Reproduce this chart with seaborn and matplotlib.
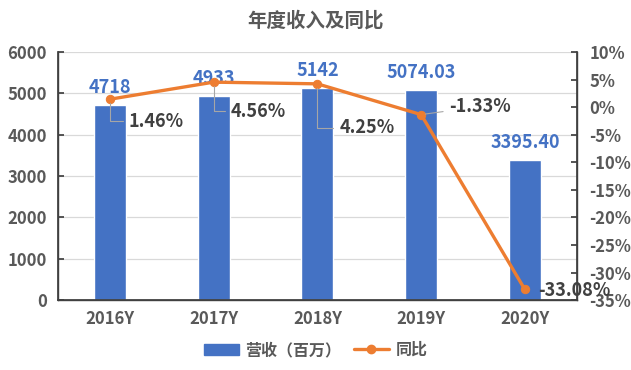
import matplotlib
matplotlib.use("Agg")
import matplotlib.pyplot as plt
import seaborn as sns
import pandas as pd
from matplotlib.lines import Line2D
from matplotlib.patches import Patch

# chart data
years = ["2016Y", "2017Y", "2018Y", "2019Y", "2020Y"]
revenue = [4718, 4933, 5142, 5074.03, 3395.40]
revenue_labels = ["4718", "4933", "5142", "5074.03", "3395.40"]
yoy = [1.46, 4.56, 4.25, -1.33, -33.08]
yoy_labels = ["1.46%", "4.56%", "4.25%", "-1.33%", "-33.08%"]

BLUE = "#4472C4"
ORANGE = "#ED7D31"
TXT = "#595959"

sns.set_theme(style="white")
plt.rcParams['font.family'] = ['Noto Sans CJK SC', 'DejaVu Sans']
plt.rcParams['font.weight'] = 'bold'

df = pd.DataFrame({'year': years, 'revenue': revenue, 'yoy': yoy})

fig = plt.figure(figsize=(6.31, 3.70), dpi=100)
ax = fig.add_axes([0.092, 0.189, 0.822, 0.670])

sns.barplot(data=df, x='year', y='revenue', color=BLUE, width=0.31,
            saturation=1, ax=ax)
ax.set_xlim(-0.5, 4.5)
ax.set_ylim(0, 6000)
ax.set_yticks(range(0, 6001, 1000))
ax.set_xlabel("")
ax.set_ylabel("")
ax.yaxis.grid(True, color="#D9D9D9", lw=0.9)
ax.set_axisbelow(True)
ax.tick_params(axis='y', labelsize=12, labelcolor=TXT, length=4, direction='in',
               color="#404040", pad=8)
ax.tick_params(axis='x', labelsize=12, labelcolor=TXT, length=0, pad=7)
ax.set_xticks([i - 0.5 for i in range(6)], minor=True)
ax.tick_params(axis='x', which='minor', length=6, direction='in', color="#404040")
for lab in ax.get_xticklabels() + ax.get_yticklabels():
    lab.set_fontweight('bold')
for s in ['left', 'bottom', 'right']:
    ax.spines[s].set_color("#404040")
    ax.spines[s].set_linewidth(1.0)
ax.spines['top'].set_visible(False)

# bar value labels
for i, (v, t) in enumerate(zip(revenue, revenue_labels)):
    ax.annotate(t, (i, v), xytext=(0, 8), textcoords='offset pixels',
                ha='center', va='bottom', color=BLUE, fontsize=13, fontweight='bold')

ax2 = ax.twinx()
sns.lineplot(x=list(range(len(years))), y=yoy, ax=ax2, color=ORANGE, lw=2.4,
             marker='o', markersize=6, markeredgecolor=ORANGE, sort=False)
ax2.set_ylim(-35, 10)
ax2.set_yticks(range(-35, 11, 5))
ax2.set_yticklabels([f"{t}%" for t in range(-35, 11, 5)])
ax2.tick_params(axis='y', labelsize=12, labelcolor=TXT, length=4, direction='in',
                color="#404040", pad=9)
for lab in ax2.get_yticklabels():
    lab.set_fontweight('bold')
for s in ['left', 'bottom', 'right']:
    ax2.spines[s].set_color("#404040")
ax2.spines['top'].set_visible(False)
ax2.grid(False)

# yoy labels with leader lines
offsets = [(19, -22), (17, -29), (22, -44), (28, 8), (13, -1)]
styles = ["angle,angleA=0,angleB=90,rad=0"] * 3 + ["arc3,rad=0", None]
for i, (v, t) in enumerate(zip(yoy, yoy_labels)):
    arrow = None
    if styles[i]:
        arrow = dict(arrowstyle='-', color="#A6A6A6", lw=0.8,
                     connectionstyle=styles[i], shrinkA=2, shrinkB=3)
    ax2.annotate(t, (i, v), xytext=offsets[i], textcoords='offset pixels',
                 ha='left', va='center', color="#404040", fontsize=13,
                 fontweight='bold', arrowprops=arrow)

fig.suptitle("年度收入及同比", x=0.5, y=0.97, fontsize=14, fontweight='bold', color=TXT)

handles = [Patch(color=BLUE, label="营收（百万）"),
           Line2D([0], [0], color=ORANGE, lw=2.4, marker='o', markersize=6, label="同比")]
leg = fig.legend(handles=handles, loc='center', bbox_to_anchor=(0.5, 0.054), ncol=2,
                 frameon=False, fontsize=11.5, handlelength=2.2, columnspacing=0.8,
                 handletextpad=0.4)
for t in leg.get_texts():
    t.set_color(TXT)
    t.set_fontweight('bold')

fig.savefig("out.png", dpi=100)
